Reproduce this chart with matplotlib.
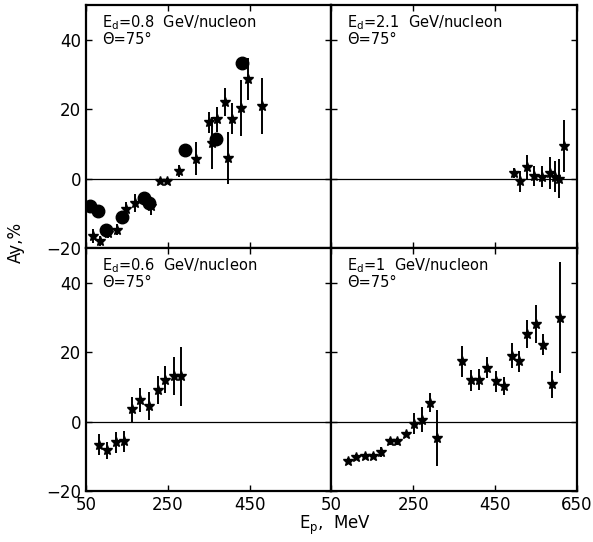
import matplotlib
matplotlib.use("Agg")
import matplotlib.pyplot as plt

# ---- data (E_p in MeV, Ay in %) ----
# Ed = 0.8 GeV/nucleon : stars with error bars
e08_star_x = [68, 84, 104, 126, 147, 169, 210, 230, 247, 278, 319, 350, 359, 371, 390, 398, 408, 428, 447, 479]
e08_star_y = [-16.6, -18, -15.6, -14.7, -8.9, -7, -8, -0.6, -0.6, 2.1, 5.7, 16.2, 10.3, 17, 22, 6, 17.2, 20.3, 28.7, 20.8]
e08_star_err = [2, 1.5, 1.5, 1.5, 2, 2.5, 2.5, 0.8, 0.8, 1.8, 4.8, 3, 7.5, 3.5, 4, 7.5, 4.5, 8, 6, 8]
# Ed = 0.8 GeV/nucleon : filled circles
e08_dot_x = [60, 80, 100, 137, 193, 205, 293, 367, 432]
e08_dot_y = [-8, -9.4, -14.7, -11, -5.5, -7, 8.3, 11.4, 33.3]

# Ed = 2.1 GeV/nucleon
e21_x = [495, 511, 529, 546, 564, 584, 596, 607, 618]
e21_y = [1.6, -0.8, 3.3, 0.7, 0.5, 1.6, 0.5, 0, 9.3]
e21_err = [1.5, 3, 3.5, 3, 3, 4.5, 4.5, 5.5, 7.5]

# Ed = 0.6 GeV/nucleon
e06_x = [82, 102, 123, 142, 163, 183, 203, 225, 244, 264, 283]
e06_y = [-6.6, -8.3, -6, -5.7, 3.5, 6.3, 4.4, 9, 12.1, 13.2, 13]
e06_err = [3, 2.5, 3, 3, 3.5, 3.5, 4, 4, 4, 5.5, 8.5]

# Ed = 1 GeV/nucleon
e1_x = [90, 111, 131, 151, 171, 192, 210, 232, 252, 270, 291, 309, 370, 390, 410, 431, 453, 471, 490, 509, 529, 550, 568, 588, 609]
e1_y = [-11.4, -10.2, -10, -9.8, -8.7, -5.7, -5.7, -3.7, -0.6, 0.6, 5.4, -4.7, 17.4, 11.9, 12.1, 15.5, 11.6, 10.2, 19, 17.4, 25.3, 28, 22.2, 10.7, 29.9]
e1_err = [0.8, 0.8, 0.8, 0.8, 1.5, 1, 1, 0.8, 3, 3.5, 2.7, 8, 4.5, 3, 3, 3, 3, 2.5, 3.5, 3, 4, 5.5, 3, 4, 16]

panel_labels = [r"$\mathregular{E_d}$=0.8  GeV/nucleon" + "\nΘ=75°",
                r"$\mathregular{E_d}$=2.1  GeV/nucleon" + "\nΘ=75°",
                r"$\mathregular{E_d}$=0.6  GeV/nucleon" + "\nΘ=75°",
                r"$\mathregular{E_d}$=1  GeV/nucleon" + "\nΘ=75°"]

xticks = [50, 250, 450, 650]
yticks = [-20, 0, 20, 40]

plt.rcParams['font.family'] = ['DejaVu Sans']
fig = plt.figure(figsize=(5.93, 5.42), dpi=100)
gs = fig.add_gridspec(2, 2, left=0.145, right=0.973, top=0.991, bottom=0.094,
                      hspace=0, wspace=0)
axes = [[fig.add_subplot(gs[i, j]) for j in range(2)] for i in range(2)]

eb_kw = dict(fmt='*', color='black', ms=7, elinewidth=1.4, capsize=0)

a = axes[0][0]
a.errorbar(e08_star_x, e08_star_y, yerr=e08_star_err, **eb_kw)
a.plot(e08_dot_x, e08_dot_y, 'o', color='black', ms=9)
axes[0][1].errorbar(e21_x, e21_y, yerr=e21_err, **eb_kw)
axes[1][0].errorbar(e06_x, e06_y, yerr=e06_err, **eb_kw)
axes[1][1].errorbar(e1_x, e1_y, yerr=e1_err, **eb_kw)

for i in range(2):
    for j in range(2):
        ax = axes[i][j]
        ax.set_xlim(50, 650)
        ax.set_ylim(-20, 50)
        ax.axhline(0, color='black', lw=0.9)
        ax.set_xticks(xticks)
        ax.set_yticks(yticks)
        ax.tick_params(direction='in', length=4, width=1, top=True, right=True,
                       labelsize=12)
        for s in ax.spines.values():
            s.set_linewidth(1.6)
        ax.text(0.065, 0.965, panel_labels[2 * i + j], transform=ax.transAxes,
                va='top', ha='left', fontsize=10.5, linespacing=1.0)
        if j == 1:
            ax.tick_params(labelleft=False)
        if i == 0:
            ax.tick_params(labelbottom=False)

axes[1][0].set_xticks(xticks)
axes[1][0].set_xticklabels(["50", "250", "450", ""])

fig.text(0.027, 0.553, "Ay,%", rotation=90, ha='center', va='center', fontsize=12)
fig.text(0.565, 0.03, r"$\mathregular{E_p}$,  MeV", ha='center', va='center', fontsize=12)

fig.savefig("out.png", dpi=100)
